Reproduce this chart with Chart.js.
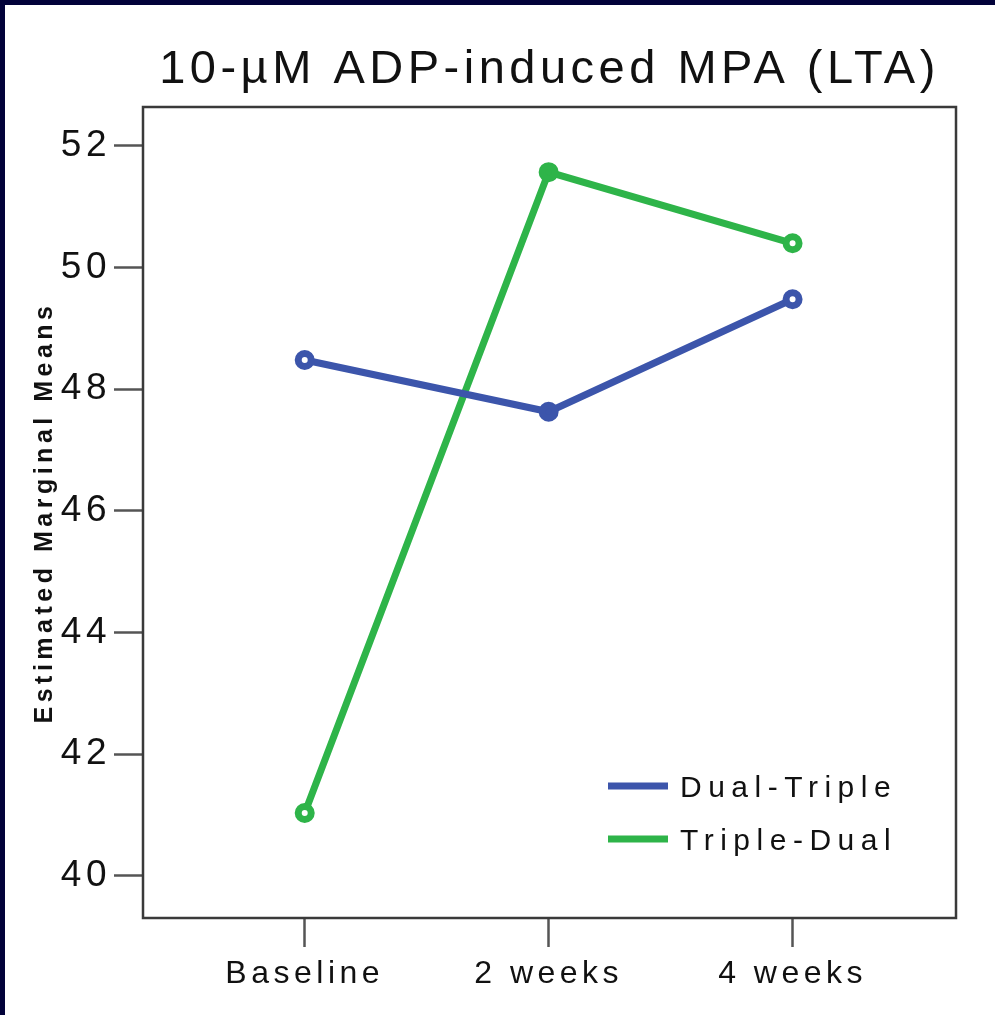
<!DOCTYPE html>
<html>
<head>
<meta charset="utf-8">
<script src="https://cdn.jsdelivr.net/npm/chart.js@4.4.1/dist/chart.umd.min.js"></script>
<style>
  html, body { margin: 0; padding: 0; background: #02023a; }
  #wrap { position: absolute; left: 5px; top: 5px; width: 990px; height: 1010px; background: #fff; }
</style>
</head>
<body>
<div id="wrap"><canvas id="mpaChart" width="990" height="1010"></canvas></div>
<script>
// values
const timepoints = ['Baseline', '2 weeks', '4 weeks'];
const dualTriple = [48.48, 47.63, 49.48];
const tripleDual = [41.03, 51.57, 50.40];
const yTicks = [40, 42, 44, 46, 48, 50, 52];

const FONT = '"Liberation Sans", Arial, sans-serif';
const BLUE = '#3c55ab';
const GREEN = '#2eb449';
const AXIS = '#3a3a3a';

// the original uses a wide, loosely spaced font
const spacing = {
  id: 'spacing',
  beforeUpdate(chart) { chart.ctx.letterSpacing = '4.5px'; },
  beforeDraw(chart) { chart.ctx.letterSpacing = '4.5px'; },
};

// full box around the plot
const frame = {
  id: 'frame',
  beforeDatasetsDraw(chart) {
    const { ctx, chartArea: a } = chart;
    ctx.save();
    ctx.strokeStyle = AXIS;
    ctx.lineWidth = 2.5;
    ctx.strokeRect(a.left, a.top, a.right - a.left, a.bottom - a.top);
    ctx.restore();
  },
};

// legend sits inside the plot, lower right
const insideLegend = {
  id: 'insideLegend',
  afterDraw(chart) {
    const { ctx, chartArea: a } = chart;
    const rows = [a.bottom - 132, a.bottom - 79];
    ctx.save();
    ctx.letterSpacing = '6.5px';
    ctx.font = '30px ' + FONT;
    ctx.textBaseline = 'middle';
    ctx.textAlign = 'left';
    chart.data.datasets.forEach((ds, i) => {
      const y = rows[i];
      ctx.strokeStyle = ds.borderColor;
      ctx.lineWidth = 7;
      ctx.lineCap = 'butt';
      ctx.beginPath();
      ctx.moveTo(a.right - 348, y);
      ctx.lineTo(a.right - 288, y);
      ctx.stroke();
      ctx.fillStyle = '#111';
      ctx.fillText(ds.label, a.right - 276, y + 3);
    });
    ctx.restore();
  },
};

const toPoints = arr => arr.map((v, i) => ({ x: i, y: v }));

new Chart(document.getElementById('mpaChart'), {
  type: 'line',
  data: {
    datasets: [
      {
        label: 'Dual-Triple', data: toPoints(dualTriple),
        borderColor: BLUE, borderWidth: 7, tension: 0,
        pointRadius: 6.5, pointHoverRadius: 6.5, pointBorderWidth: 7,
        pointBorderColor: BLUE, pointBackgroundColor: ['#fff', BLUE, '#fff'],
      },
      {
        label: 'Triple-Dual', data: toPoints(tripleDual),
        borderColor: GREEN, borderWidth: 7, tension: 0,
        pointRadius: 6.5, pointHoverRadius: 6.5, pointBorderWidth: 7,
        pointBorderColor: GREEN, pointBackgroundColor: ['#fff', GREEN, '#fff'],
      },
    ],
  },
  options: {
    responsive: false,
    animation: false,
    layout: { padding: { left: 0, right: 39, top: 0, bottom: 0 } },
    plugins: {
      legend: { display: false },
      tooltip: { enabled: false },
      title: {
        display: true, fullSize: false,
        text: '10-\u00b5M ADP-induced MPA (LTA)',
        color: '#111',
        font: { family: FONT, size: 47, weight: 'normal', lineHeight: 1.2 },
        padding: { top: 37, bottom: 8.6 },
      },
    },
    scales: {
      x: {
        type: 'linear', min: -0.663, max: 2.67,
        afterBuildTicks: s => { s.ticks = timepoints.map((_, i) => ({ value: i })); },
        afterFit: s => { s.height = 97; },
        border: { display: false },
        grid: { drawOnChartArea: false, drawTicks: true, tickLength: 29, tickWidth: 2.5, tickColor: '#555' },
        ticks: {
          callback: v => timepoints[v],
          color: '#111', padding: 8, maxRotation: 0, autoSkip: false,
          font: { family: FONT, size: 32 },
        },
      },
      y: {
        min: 39.304, max: 52.641,
        afterBuildTicks: s => { s.ticks = yTicks.map(v => ({ value: v })); },
        afterFit: s => { s.width = 138; },
        border: { display: false },
        grid: { drawOnChartArea: false, drawTicks: true, tickLength: 29, tickWidth: 2.5, tickColor: '#555' },
        ticks: {
          color: '#111', padding: 3,
          font: { family: FONT, size: 37 },
        },
        title: {
          display: true, text: 'Estimated Marginal Means', color: '#111',
          font: { family: FONT, size: 25, weight: 'bold', lineHeight: 1.2 },
          padding: { top: 25 },
        },
      },
    },
  },
  plugins: [spacing, frame, insideLegend],
});
</script>
</body>
</html>
